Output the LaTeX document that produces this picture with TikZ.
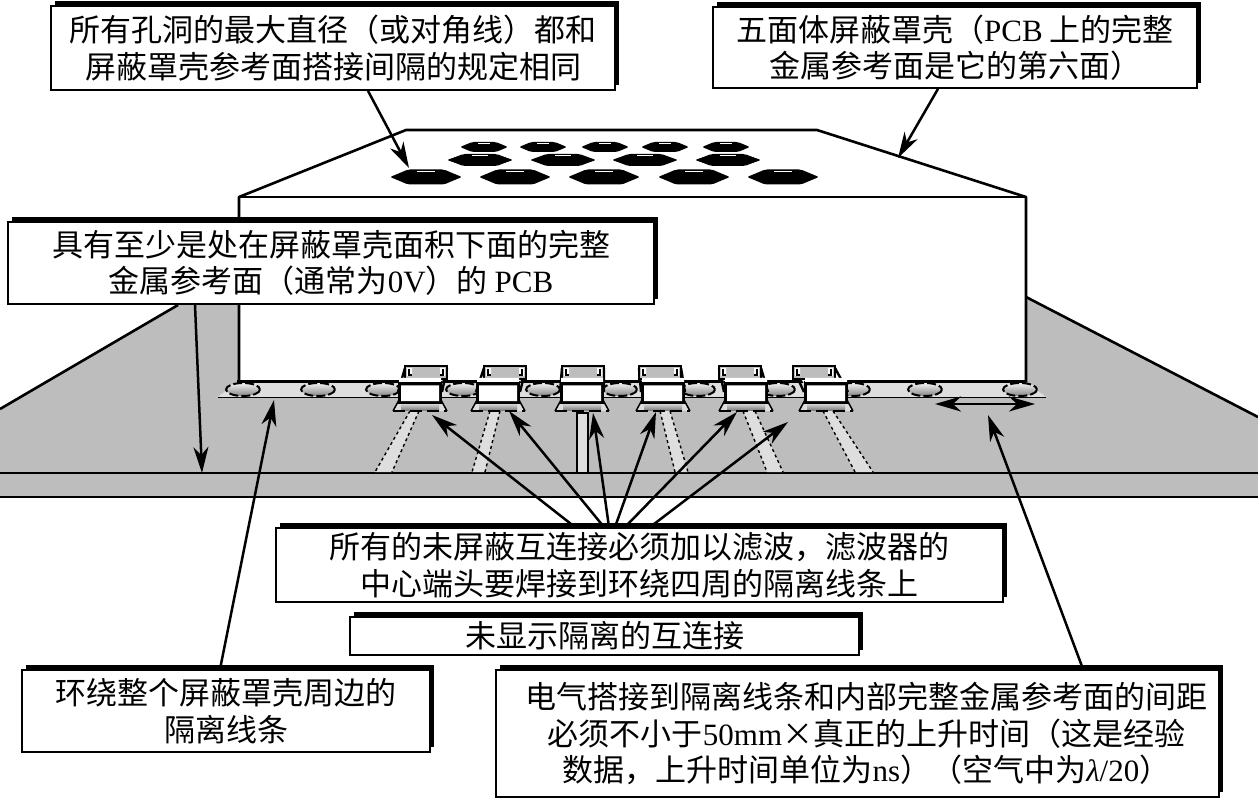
\documentclass[tikz,border=0pt]{standalone}
\usepackage{fontspec}
\setmainfont{Noto Sans CJK SC}
\newfontfamily\lt{Liberation Serif}
\usetikzlibrary{arrows.meta,shadows}
\definecolor{planegray}{gray}{0.74}
\definecolor{stripgray}{gray}{0.87}
\pgfkeys{tikz/calloutbox/.style={draw,line width=1.8pt,fill=white,inner sep=0pt,align=center,font=\fontsize{31}{36.5}\selectfont,drop shadow={shadow xshift=3.5pt,shadow yshift=5pt,opacity=1,fill=black}}}
\pgfkeys{tikz/calloutarrow/.style={line width=2.5pt,-{Stealth[length=26pt,width=15pt,inset=8pt]}}}
\pgfkeys{tikz/edgeline/.style={line width=2.6pt,line join=round}}
\newcommand*\padspot[1]{\draw[line width=2pt,dash pattern=on 9pt off 3pt,top color=gray!10,bottom color=gray!95] (#1,389.5) ellipse (17 and 6.5);}
\newcommand*\holeshape[4]{%
  \fill[rounded corners=2pt] (#1-#3,#2) -- (#1-#3*0.72,#2-#4*0.55) -- (#1-#3*0.5,#2-#4) -- (#1+#3*0.5,#2-#4) -- (#1+#3*0.72,#2-#4*0.55) -- (#1+#3,#2) -- (#1+#3*0.72,#2+#4*0.55) -- (#1+#3*0.5,#2+#4) -- (#1-#3*0.5,#2+#4) -- (#1-#3*0.72,#2+#4*0.55) -- cycle;
  \draw[white,line width=1pt] (#1-#3*0.25,#2-#4*0.72) -- (#1+#3*0.25,#2-#4*0.72);
}
\newcommand*\filterunit[2]{%
  % base
  \fill[stripgray] (#1-27,411) -- (#1-21,400) -- (#1+21,400) -- (#1+27,411) -- cycle;
  \fill[top color=gray!35,bottom color=gray] (#1-19,404) rectangle (#1+19,410);
  \draw[line width=2pt,dash pattern=on 12pt off 5pt] (#1-27,411) -- (#1+27,411);
  \draw[line width=1.5pt] (#1-27,411) -- (#1-21,400) (#1+27,411) -- (#1+21,400);
  % lid and sides
  \fill[white] (#1+#2-21,366) -- (#1-21,385) -- (#1+21,385) -- (#1+#2+21,366) -- cycle;
  \draw[line width=2.4pt] (#1+#2-21,368) -- (#1-22,392) (#1+#2+21,368) -- (#1+22,392);
  \draw[fill=planegray,line width=1.6pt] (#1+#2-21,379) rectangle (#1+#2+21,366);
  \fill[white] (#1+#2-19,368) rectangle (#1+#2-14,376) (#1+#2+14,368) rectangle (#1+#2+19,376);
  \draw[line width=1.4pt] (#1+#2-17,369) -- (#1+#2-17,375) -- (#1+#2-14,375) (#1+#2+17,369) -- (#1+#2+17,375) -- (#1+#2+14,375);
  % front
  \fill[black] (#1-22,381) rectangle (#1+22,404);
  \fill[white] (#1-21,378) rectangle (#1+21,382) (#1-19,385.5) rectangle (#1+19,401);
}

\begin{document}
\begin{tikzpicture}[x=1pt,y=-1pt]
\useasboundingbox (0,0) rectangle (1258,799);

% ground plane
\fill[planegray] (0,409) -- (178,305) -- (1026,297) -- (1258,417) -- (1258,497) -- (0,497) -- cycle;
\draw[edgeline] (0,409) -- (178,305);
\draw[edgeline] (1026,297) -- (1258,417);
\draw[edgeline] (0,473) -- (1258,473);
\draw[edgeline] (0,497) -- (1258,497);

% shield
\fill[white] (239,197) -- (406,130) -- (817,130) -- (1026,197) -- (1026,383) -- (239,383) -- cycle;
\draw[edgeline] (239,383) -- (239,197) -- (406,130) -- (817,130) -- (1026,197) -- (1026,383);
\draw[edgeline] (239,197) -- (1026,197);

% holes
\foreach \hx in {484,543,605,665,726} {\holeshape{\hx}{147}{24}{5}}
\foreach \hx in {480,563,645,728} {\holeshape{\hx}{160}{33}{6}}
\foreach \hx in {426,515,604,694,783} {\holeshape{\hx}{177}{36}{7.5}}

% guard strip
\fill[stripgray] (218,397) -- (237,382) -- (1026,382) -- (1046,397) -- cycle;
\draw[line width=1pt] (218,397) -- (1046,397);
\draw[line width=3pt] (237,382) -- (1026,382);
\foreach \px in {243,318,383,463,543,620,698,778,853,925,1020} {\padspot{\px}}

% traces
\foreach \ta/\tb/\ba/\bb in {410/419/375/392,490/500/472/485,660/670/675/688,743/755/767/783,823/833/855/873} {
  \fill[stripgray] (\ta,411) -- (\tb,411) -- (\bb,472) -- (\ba,472) -- cycle;
  \draw[line width=1.4pt,dashed] (\ta,411) -- (\ba,472) (\tb,411) -- (\bb,472);
}
\draw[fill=stripgray,line width=2pt] (577,472) -- (577,413) -- (588,413) -- (588,472);

% filters
\foreach \fx/\fs in {420/6,498/7,582/1,663/-3,746/-6,826/-12} {\filterunit{\fx}{\fs}}

% labels
\node[calloutbox,minimum width=564pt,minimum height=84pt] (holebox) at (333,48) {所有孔洞的最大直径（或对角线）都和\\屏蔽罩壳参考面搭接间隔的规定相同};
\node[calloutbox,minimum width=484pt,minimum height=81pt] (shellbox) at (955,47.5) {五面体屏蔽罩壳（{\lt PCB} 上的完整\\金属参考面是它的第六面）};
\node[calloutbox,minimum width=646pt,minimum height=82pt] (pcbbox) at (331,263) {具有至少是处在屏蔽罩壳面积下面的完整\\金属参考面（通常为{\lt 0V}）的 {\lt PCB}};
\node[calloutbox,minimum width=727pt,minimum height=74pt] (filterbox) at (639.5,565) {所有的未屏蔽互连接必须加以滤波，滤波器的\\中心端头要焊接到环绕四周的隔离线条上};
\node[calloutbox,minimum width=509pt,minimum height=38pt] (nonebox) at (604.5,636) {未显示隔离的互连接};
\node[calloutbox,minimum width=408pt,minimum height=82pt] (stripbox) at (226,711) {环绕整个屏蔽罩壳周边的\\隔离线条};
\node[calloutbox,minimum width=723pt,minimum height=127pt] (bondbox) at (857.5,733.5) {\hspace*{18pt}电气搭接到隔离线条和内部完整金属参考面的间距\\\hspace*{18pt}必须不小于{\lt 50mm}×真正的上升时间（这是经验\\\hspace*{18pt}数据，上升时间单位为{\lt ns}）（空气中为{\lt\itshape λ}{\lt /20}）};

% arrows
\coordinate (holetip) at (409,168);
\coordinate (shelltip) at (898,158);
\coordinate (pcbtip) at (202,473);
\coordinate (striptip) at (274,400);
\coordinate (bondtip) at (988,415);
\coordinate (gapleft) at (935,404);
\coordinate (gapright) at (1035,404);
\draw[calloutarrow] ([xshift=35pt]holebox.south) -- (holetip);
\draw[calloutarrow] ([xshift=-17pt]shellbox.south) -- (shelltip);
\draw[calloutarrow] ([xshift=-136pt]pcbbox.south) -- (pcbtip);
\draw[calloutarrow] ([xshift=-6pt]stripbox.north) -- (striptip);
\draw[calloutarrow] ([xshift=225.5pt]bondbox.north) -- (bondtip);
\draw[line width=2.5pt,{Stealth[length=26pt,width=15pt,inset=8pt]}-{Stealth[length=26pt,width=15pt,inset=8pt]}] (gapleft) -- (gapright);
\foreach \sx/\tx/\ty [count=\i] in {-64.5/432/415,-35.5/509/411,-30.5/593/413,-24.5/656/412,-14.5/737/412,10.5/788/422} {
  \coordinate (filtertip\i) at (\tx,\ty);
  \draw[calloutarrow] ([xshift=\sx pt]filterbox.north) -- (filtertip\i);
}

\end{tikzpicture}
\end{document}
